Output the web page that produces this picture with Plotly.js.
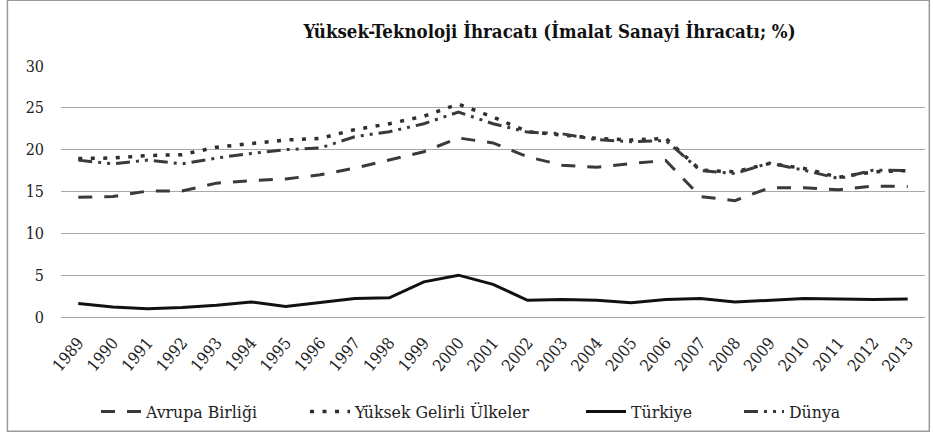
<!DOCTYPE html>
<html>
<head>
<meta charset="utf-8">
<script src="https://cdn.plot.ly/plotly-3.0.1.min.js"></script>
<style>html,body{margin:0;padding:0;background:#fff;}#chart{width:933px;height:438px;}</style>
</head>
<body>
<div id="chart"></div>
<script>
const years = ["1989","1990","1991","1992","1993","1994","1995","1996","1997","1998","1999","2000","2001","2002","2003","2004","2005","2006","2007","2008","2009","2010","2011","2012","2013"];
const avrupaBirligi = [14.3,14.4,15.05,15.05,16.0,16.3,16.5,17.0,17.8,18.75,19.75,21.4,20.8,19.15,18.15,17.9,18.35,18.7,14.4,13.9,15.45,15.45,15.2,15.65,15.6];
const yuksekGelirli = [18.95,19.0,19.3,19.4,20.3,20.75,21.15,21.35,22.4,23.1,24.0,25.45,23.9,22.15,21.75,21.35,21.15,21.35,17.55,17.35,18.35,17.75,16.7,17.35,17.5];
const turkiye = [1.6,1.2,1.0,1.15,1.4,1.8,1.25,1.7,2.2,2.3,4.2,5.0,3.9,2.0,2.1,2.0,1.7,2.1,2.2,1.8,2.0,2.2,2.15,2.1,2.15];
const dunya = [18.75,18.3,18.75,18.3,19.0,19.55,20.0,20.2,21.55,22.15,23.1,24.5,23.1,22.1,21.9,21.2,20.95,21.1,17.5,17.15,18.4,17.55,16.55,17.55,17.5];
const seriesNames = ["Avrupa Birliği","Yüksek Gelirli Ülkeler","Türkiye","Dünya"];
const yTicks = [0,5,10,15,20,25,30];

const FONT = '"DejaVu Serif Condensed", "Liberation Serif", serif';

const traces = [
  {x: years, y: avrupaBirligi, name: seriesNames[0], type: 'scatter', mode: 'lines', legend: 'legend',
   line: {color: '#3a3a3a', width: 3, dash: '14px,12px'}},
  {x: years, y: yuksekGelirli, name: seriesNames[1], type: 'scatter', mode: 'lines', legend: 'legend2',
   line: {color: '#2e2e2e', width: 3.5, dash: '4px,8.5px'}},
  {x: years, y: turkiye, name: seriesNames[2], type: 'scatter', mode: 'lines', legend: 'legend3',
   line: {color: '#111111', width: 3}},
  {x: years, y: dunya, name: seriesNames[3], type: 'scatter', mode: 'lines', legend: 'legend4',
   line: {color: '#3a3a3a', width: 3, dash: '14px,6px,3px,6px,3px,6px'}}
];

function leg(px) {
  return {orientation: 'h', x: px / 933, xref: 'container', xanchor: 'left', y: 0.06, yref: 'container', yanchor: 'middle',
          font: {family: FONT, size: 17.5, color: '#222'}, itemwidth: 40, bgcolor: 'rgba(0,0,0,0)'};
}

const layout = {
  width: 933, height: 438,
  margin: {l: 61, r: 8, t: 66, b: 121},
  paper_bgcolor: '#ffffff', plot_bgcolor: '#ffffff',
  font: {family: FONT, size: 15, color: '#222'},
  title: {text: '<b>Yüksek-Teknoloji İhracatı (İmalat Sanayi İhracatı; %)</b>',
          font: {family: FONT, size: 18.5, color: '#111'},
          x: 0.589, xref: 'container', xanchor: 'center', y: 0.928, yref: 'container', yanchor: 'middle'},
  xaxis: {type: 'category', range: [-0.5, 24.5], tickangle: -50, showgrid: false, showline: false,
          zeroline: false, ticks: '', ticklabelstandoff: 12, tickfont: {family: FONT, size: 16.5, color: '#222'}, fixedrange: true},
  yaxis: {range: [0, 30], tickvals: yTicks, ticktext: yTicks.map(String), showgrid: true, gridcolor: '#a8a8a8',
          gridwidth: 1, zeroline: true, zerolinecolor: '#a8a8a8', zerolinewidth: 1, showline: false,
          ticks: '', ticklabelstandoff: 16, tickfont: {family: FONT, size: 16, color: '#222'}, fixedrange: true},
  showlegend: true,
  legend: leg(96),
  legend2: leg(305),
  legend3: leg(581),
  legend4: leg(739),
  shapes: [
    {type: 'rect', xref: 'paper', yref: 'paper', x0: -0.062, x1: 1.005, y0: -0.455, y1: 1.262,
     line: {color: '#9a9a9a', width: 1.5}, fillcolor: 'rgba(0,0,0,0)', layer: 'below'}
  ]
};

Plotly.newPlot('chart', traces, layout, {displayModeBar: false, staticPlot: true});
</script>
</body>
</html>
